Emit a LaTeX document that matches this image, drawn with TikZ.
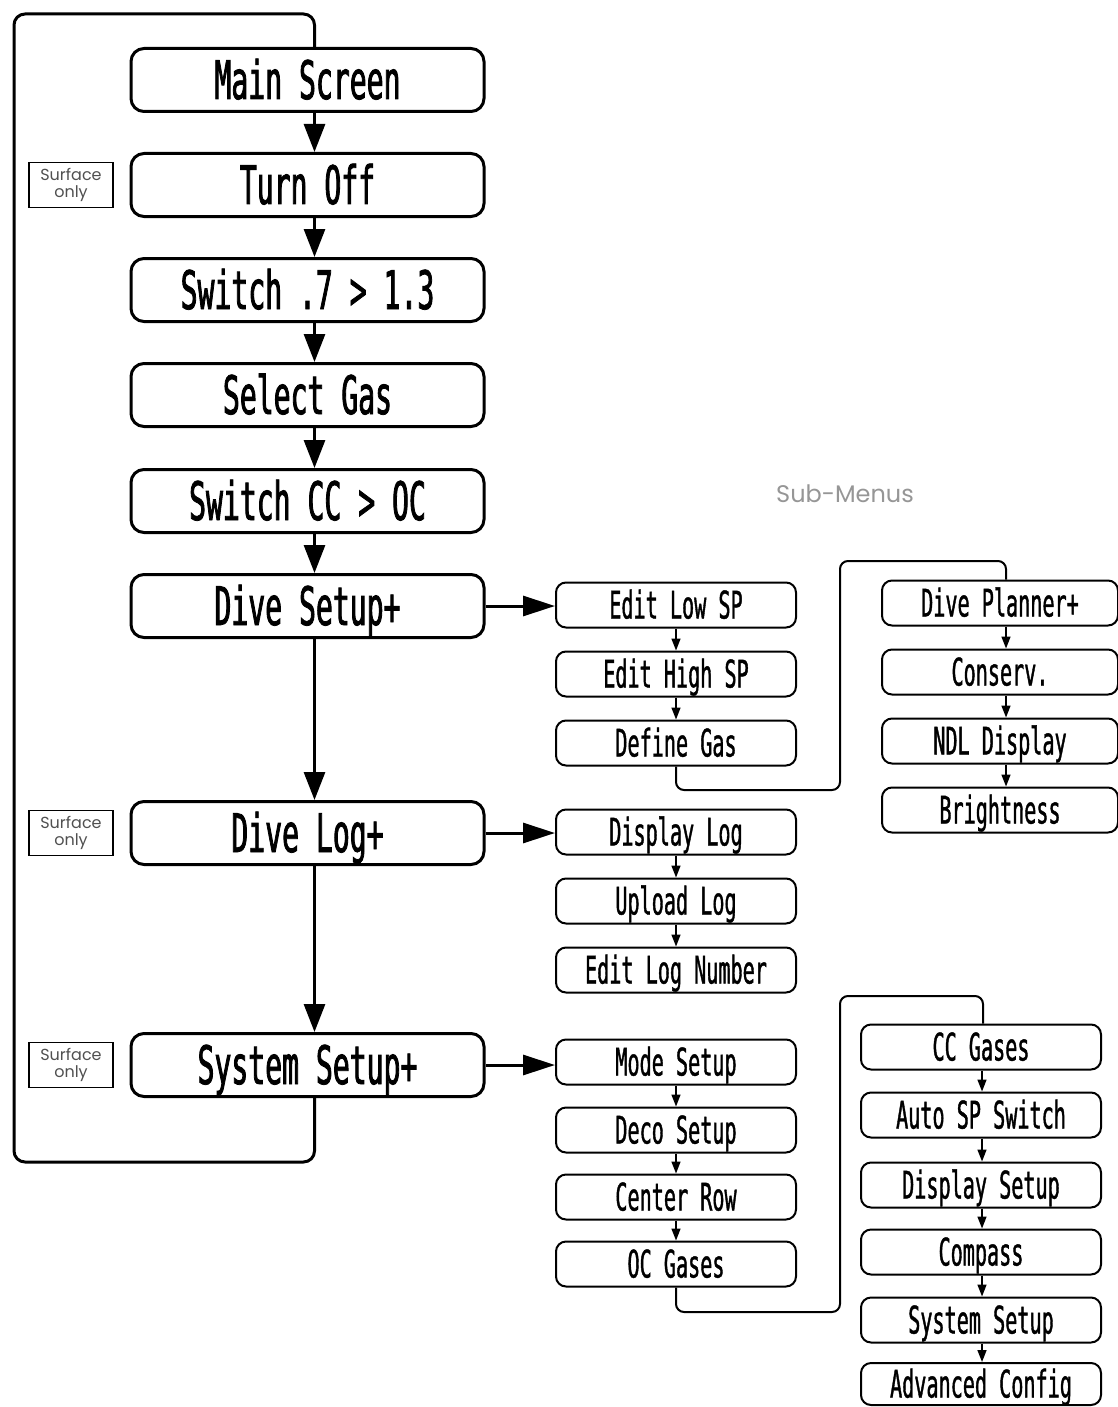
\documentclass[tikz,border=0pt]{standalone}
\usepackage{fontspec}
\newfontfamily\lcd[FakeStretch=0.53,FakeBold=1.5]{DejaVu Sans Mono}
\newfontfamily\lcdsub[FakeStretch=0.53,FakeBold=1]{DejaVu Sans Mono}
\newfontfamily\geo{Poppins}
\usetikzlibrary{arrows.meta,calc}
\definecolor{subgray}{RGB}{150,150,150}
\definecolor{surfgray}{RGB}{80,80,80}
\begin{document}
\begin{tikzpicture}[x=1pt,y=-1pt,
  mainbox/.style={draw, line width=3pt, rounded corners=13pt, minimum width=353pt,
    minimum height=63pt, inner sep=0pt, text height=38pt, text depth=0pt,
    font=\lcd\fontsize{53}{53}\selectfont},
  subbox/.style={draw, line width=2pt, rounded corners=10pt, minimum width=240pt,
    minimum height=45pt, inner sep=0pt, text height=27pt, text depth=0pt,
    font=\lcdsub\fontsize{38}{38}\selectfont},
  surf/.style={draw, line width=1.2pt, minimum width=84pt, minimum height=45pt,
    inner sep=0pt, align=center, text=surfgray,
    font=\geo\fontsize{16}{17.5}\selectfont},
  mainarrow/.style={line width=3pt, -{Triangle[length=28pt,width=21pt]}},
  sidearrow/.style={line width=3pt, -{Triangle[length=32pt,width=20pt]}},
  subarrow/.style={line width=1.5pt, -{Triangle[length=12pt,width=9pt]}},
  loopline/.style={line width=3pt, rounded corners=11pt},
  subconn/.style={line width=2pt, rounded corners=8pt}]
\useasboundingbox[fill=white] (0,0) rectangle (1118,1407);

% main column
\node[mainbox] (ms) at (307.5,80) {Main Screen};
\node[mainbox] (to) at (307.5,185) {Turn Off};
\node[mainbox] (sw) at (307.5,290) {Switch .7 > 1.3};
\node[mainbox] (sg) at (307.5,395) {Select Gas};
\node[mainbox] (sc) at (307.5,501) {Switch CC > OC};
\node[mainbox] (ds) at (307.5,606) {Dive Setup+};
\node[mainbox] (dl) at (307.5,833) {Dive Log+};
\node[mainbox] (ss) at (307.5,1065) {System Setup+};

\node[surf] (s1) at (71,185) {Surface\\only};
\node[surf] (s2) at (71,833) {Surface\\only};
\node[surf] (s3) at (71,1065) {Surface\\only};

\foreach \a/\b in {ms/to,to/sw,sw/sg,sg/sc,sc/ds,ds/dl,dl/ss}
  \draw[mainarrow] ([xshift=7pt]\a.south) -- ([xshift=7pt]\b.north);

\coordinate (lt) at (14,14);
\coordinate (lb) at (14,1162);
\draw[loopline] ([xshift=7pt]ss.south) |- (lb) -- (lt) -| ([xshift=7pt]ms.north);

% sub column 1
\node[subbox] (el) at (676,605) {Edit Low SP};
\node[subbox] (eh) at (676,674) {Edit High SP};
\node[subbox] (dg) at (676,743) {Define Gas};
\node[subbox] (dsl) at (676,832) {Display Log};
\node[subbox] (ul) at (676,901) {Upload Log};
\node[subbox] (en) at (676,970) {Edit Log Number};
\node[subbox] (mo) at (676,1062) {Mode Setup};
\node[subbox] (de) at (676,1130) {Deco Setup};
\node[subbox] (cr) at (676,1197) {Center Row};
\node[subbox] (oc) at (676,1264) {OC Gases};

\draw[sidearrow] (ds.east) -- (ds.east -| el.west);
\draw[sidearrow] (dl.east) -- (dl.east -| dsl.west);
\draw[sidearrow] (ss.east) -- (ss.east -| mo.west);

\foreach \a/\b in {el/eh,eh/dg,dsl/ul,ul/en,mo/de,de/cr,cr/oc}
  \draw[subarrow] (\a.south) -- (\b.north);

% sub column 2
\node[subbox, minimum width=236pt] (dp) at (1000,603) {Dive Planner+};
\node[subbox, minimum width=236pt] (cv) at (1000,672) {Conserv.};
\node[subbox, minimum width=236pt] (nd) at (1000,741) {NDL Display};
\node[subbox, minimum width=236pt] (br) at (1000,810) {Brightness};
\foreach \a/\b in {dp/cv,cv/nd,nd/br}
  \draw[subarrow] ([xshift=6pt]\a.south) -- ([xshift=6pt]\b.north);

\coordinate (c1a) at (840,790);
\coordinate (c1b) at (840,561);
\draw[subconn] (dg.south) |- (c1a) -- (c1b) -| ([xshift=6pt]dp.north);

% sub column 3
\node[subbox] (cc) at (981,1047) {CC Gases};
\node[subbox] (as) at (981,1115) {Auto SP Switch};
\node[subbox] (dsp) at (981,1185) {Display Setup};
\node[subbox] (cp) at (981,1252) {Compass};
\node[subbox] (sy) at (981,1320) {System Setup};
\node[subbox, minimum height=42pt] (ac) at (981,1384) {Advanced Config};
\foreach \a/\b in {cc/as,as/dsp,dsp/cp,cp/sy,sy/ac}
  \draw[subarrow] ([xshift=1pt]\a.south) -- ([xshift=1pt]\b.north);

\coordinate (c2a) at (840,1312);
\coordinate (c2b) at (840,996);
\draw[subconn] (oc.south) |- (c2a) -- (c2b) -| ([xshift=2pt]cc.north);

\node[text=subgray, font=\geo\fontsize{24}{24}\selectfont] (sm) at (845,494) {Sub-Menus};
\end{tikzpicture}
\end{document}
